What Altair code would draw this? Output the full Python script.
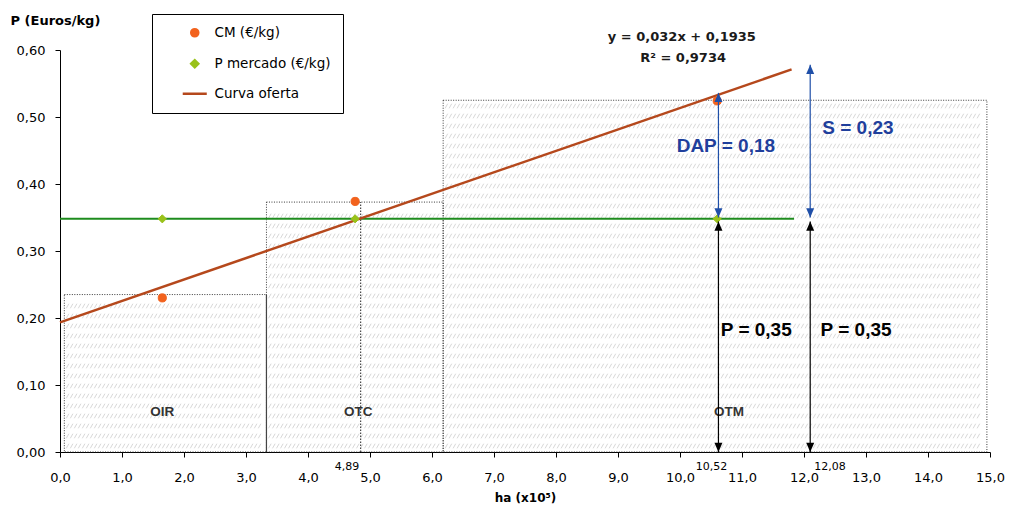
import altair as alt
import pandas as pd
import numpy as np

# ---------------- data ----------------
cm_x = [1.65, 4.76, 10.6]
cm_y = [0.230, 0.374, 0.524]
pm_x = [1.65, 4.76, 10.6]
pm_y = [0.348, 0.348, 0.348]
curve_x = [0.0, 11.8]
curve_y = [0.1935, 0.571]
market_x = [0.0, 11.84]
market_y = [0.348, 0.348]

zone_names = ["OIR", "OTC", "OTM"]
zone_x0 = [0.07, 3.33, 6.18]
zone_x1 = [3.33, 6.18, 14.95]
zone_top = [0.235, 0.373, 0.525]
zone_label_x = [1.65, 4.81, 10.79]
zone_label_y = [0.06, 0.06, 0.06]

divider_x = [3.33]
divider_top = [0.235]
otc_mark_x = [4.85]
otc_mark_top = [0.373]

arrow_x = [10.62, 12.1, 10.62, 12.1]
arrow_y0 = [0.350, 0.350, 0.0, 0.0]
arrow_y1 = [0.536, 0.578, 0.344, 0.344]
arrow_col = ["#1f4fa8", "#1f4fa8", "#000000", "#000000"]

ann_text = ["DAP = 0,18", "S = 0,23", "P = 0,35", "P = 0,35"]
ann_x = [10.74, 12.87, 11.23, 12.84]
ann_y = [0.457, 0.484, 0.182, 0.182]
ann_col = ["#1f3f9c", "#1f3f9c", "#000000", "#000000"]

eq_text = ["y = 0,032x  + 0,1935", "R² = 0,9734"]
eq_x = [10.03, 10.05]
eq_y = [0.619, 0.588]

xmark_text = ["4,89", "10,52", "12,08"]
xmark_x = [4.63, 10.51, 12.42]
xmark_y = [-0.0225, -0.0225, -0.0225]

x_ticks = [0, 1, 2, 3, 4, 5, 6, 7, 8, 9, 10, 11, 12, 13, 14, 15]
y_ticks = [0, 0.1, 0.2, 0.3, 0.4, 0.5, 0.6]

series_names = ["CM (€/kg)", "P mercado (€/kg)", "Curva oferta"]
series_colors = ["#f2621d", "#99c21a", "#b5481c"]
series_shapes = ["circle", "diamond", "M-3.4,0L3.4,0"]

FONT = "Liberation Sans"
FONT2 = "DejaVu Sans"
W, H = 930, 402
XMAX, YMAX = 15.0, 0.6

# ---------------- tables ----------------
zones = pd.DataFrame({"name": zone_names, "x0": zone_x0, "x1": zone_x1, "top": zone_top,
                      "lx": zone_label_x, "ly": zone_label_y})
zones["bottom"] = 0.0

# decorative "////" hatch rows inside each zone (one stroked path per row)
hatch_rows = []
row_step = 10 * YMAX / H
for x0, x1, top in zip(zone_x0, zone_x1, zone_top):
    wpx = (x1 - x0) * W / XMAX - 4
    n = int(wpx / 4.0)
    path = "".join(f"M{-wpx / 2 + 4.0 * k:.1f},2.3L{-wpx / 2 + 4.0 * k + 2.6:.1f},-2.3" for k in range(n))
    for yy in np.arange(row_step * 0.6, top - 0.006, row_step):
        hatch_rows.append({"xc": (x0 + x1) / 2, "y": float(yy), "p": path})
hatch = pd.DataFrame(hatch_rows)

pts = pd.DataFrame({
    "x": cm_x + pm_x,
    "y": cm_y + pm_y,
    "series": [series_names[0]] * len(cm_x) + [series_names[1]] * len(pm_x),
})
curve = pd.DataFrame({"x": curve_x, "y": curve_y})
market = pd.DataFrame({"x": market_x, "y": market_y})
arrows = pd.DataFrame({"x": arrow_x, "y0": arrow_y0, "y1": arrow_y1, "c": arrow_col})
ann = pd.DataFrame({"t": ann_text, "x": ann_x, "y": ann_y, "c": ann_col})
eq = pd.DataFrame({"t": eq_text, "x": eq_x, "y": eq_y})
xm = pd.DataFrame({"t": xmark_text, "x": xmark_x, "y": xmark_y})
div = pd.DataFrame({"x": divider_x, "top": divider_top, "b": [0.0]})
otcm = pd.DataFrame({"x": otc_mark_x, "top": otc_mark_top, "b": [0.0]})

xs = alt.Scale(domain=[0, XMAX], nice=False)
ys = alt.Scale(domain=[0, YMAX], nice=False)

X_AXIS = alt.Axis(values=x_ticks, labelExpr="replace(format(datum.value,'.1f'),'.',',')",
                  grid=False, title="ha (x10⁵)", titleFont=FONT2, titleFontSize=12,
                  titleFontWeight="bold", titlePadding=8, titleColor="black",
                  labelFont=FONT2, labelFontSize=13, labelPadding=14, tickSize=5,
                  labelFlush=False, labelOverlap=False,
                  domainColor="black", tickColor="black", labelColor="black")
Y_AXIS = alt.Axis(values=y_ticks,
                  labelExpr="replace(format(datum.value,'.2f'),'.',',')",
                  grid=False, title="P (Euros/kg)", titleAngle=0, titleAlign="left",
                  titleBaseline="middle", titleX=-50, titleY=-30, titleFont=FONT2,
                  titleFontSize=13, titleFontWeight="bold", titleColor="black",
                  labelFont=FONT2, labelFontSize=13, labelPadding=10, tickSize=5,
                  labelFlush=False, labelOverlap=False,
                  domainColor="black", tickColor="black", labelColor="black")


def X(f):
    return alt.X(f, type="quantitative", scale=xs, axis=X_AXIS)


def Y(f):
    return alt.Y(f, type="quantitative", scale=ys, axis=Y_AXIS)


hatch_l = alt.Chart(hatch).mark_point(filled=False, size=4, opacity=1, color="#cdcdcd",
                                      strokeWidth=0.8).encode(
    x=X("xc"), y=Y("y"), shape=alt.Shape("p:N", scale=None))

zone_box = alt.Chart(zones).mark_rect(fillOpacity=0, stroke="#222222", strokeWidth=0.9,
                                      strokeDash=[1, 1.5]).encode(
    x=X("x0"), x2="x1:Q", y=Y("bottom"), y2="top:Q")

div_l = alt.Chart(div).mark_rule(color="#444444", strokeWidth=1.2).encode(
    x=X("x"), y=Y("b"), y2="top:Q")
otc_l = alt.Chart(otcm).mark_rule(color="#222222", strokeWidth=1, strokeDash=[1.5, 1.5]).encode(
    x=X("x"), y=Y("b"), y2="top:Q")

zone_txt = alt.Chart(zones).mark_text(font=FONT, fontSize=13.5, fontWeight="bold", color="#333333").encode(
    x=X("lx"), y=Y("ly"), text="name:N")

market_l = alt.Chart(market).mark_line(color="#1e8c1e", strokeWidth=2).encode(x=X("x"), y=Y("y"))
curve_l = alt.Chart(curve).mark_line(color=series_colors[2], strokeWidth=2.5).encode(x=X("x"), y=Y("y"))

leg = alt.Legend(orient="none", legendX=92, legendY=-36, strokeColor="black", fillColor="white",
                 padding=12, symbolOffset=24, labelOffset=13, rowPadding=13,
                 labelFont=FONT2, labelFontSize=13.5, labelColor="black",
                 symbolStrokeWidth=2.5, symbolSize=50)
pts_l = alt.Chart(pts).mark_point(filled=True, size=66, opacity=1, strokeWidth=1).encode(
    x=X("x"), y=Y("y"),
    color=alt.Color("series:N", scale=alt.Scale(domain=series_names, range=series_colors),
                    legend=leg, title=None),
    stroke=alt.Stroke("series:N", scale=alt.Scale(domain=series_names, range=series_colors),
                      legend=leg, title=None),
    shape=alt.Shape("series:N", scale=alt.Scale(domain=series_names, range=series_shapes),
                    legend=leg, title=None))

arrow_r = alt.Chart(arrows).mark_rule(strokeWidth=1.2).encode(
    x=X("x"), y=Y("y0"), y2="y1:Q", color=alt.Color("c:N", scale=None))
head_up = alt.Chart(arrows).mark_point(shape="M0,0L1,2.3L-1,2.3Z", filled=True, size=64, opacity=1).encode(
    x=X("x"), y=Y("y1"), color=alt.Color("c:N", scale=None))
head_dn = alt.Chart(arrows).mark_point(shape="M0,0L1,-2.3L-1,-2.3Z", filled=True, size=64, opacity=1).encode(
    x=X("x"), y=Y("y0"), color=alt.Color("c:N", scale=None))

ann_l = alt.Chart(ann).mark_text(font=FONT, fontSize=19, fontWeight="bold").encode(
    x=X("x"), y=Y("y"), text="t:N", color=alt.Color("c:N", scale=None))
eq_l = alt.Chart(eq).mark_text(font=FONT2, fontSize=13, fontWeight="bold", color="#1a1a1a").encode(
    x=X("x"), y=Y("y"), text="t:N")
xm_l = alt.Chart(xm).mark_text(font=FONT2, fontSize=11, color="black").encode(
    x=X("x"), y=Y("y"), text="t:N")

chart = alt.layer(
    hatch_l, zone_box, div_l, otc_l, zone_txt, market_l, curve_l, pts_l,
    arrow_r, head_up, head_dn, ann_l, eq_l, xm_l
).properties(
    width=W, height=H,
    autosize=alt.AutoSizeParams(type="none"),
    padding={"left": 52, "top": 42, "right": 15, "bottom": 55},
).configure_view(stroke=None)

chart.save("out.html", embed_options={"renderer": "svg", "actions": False})
